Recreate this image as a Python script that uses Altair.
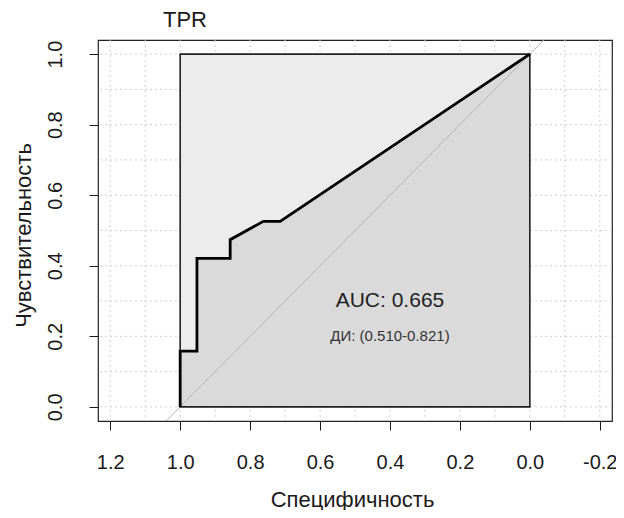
import altair as alt
import pandas as pd

# ROC curve points (specificity, sensitivity)
roc_spec = [1.0, 1.0, 0.952, 0.952, 0.857, 0.857, 0.762, 0.714, 0.0]
roc_sens = [0.0, 0.158, 0.158, 0.421, 0.421, 0.474, 0.526, 0.526, 1.0]

# max AUC square
max_spec = [0.0, 1.0]
max_sens = [0.0, 1.0]

# reference diagonal (chance line)
diag_spec = [1.04, -0.04]
diag_sens = [-0.04, 1.04]

# axis ticks and grid
x_ticks = [1.2, 1.0, 0.8, 0.6, 0.4, 0.2, 0.0, -0.2]
y_ticks = [0.0, 0.2, 0.4, 0.6, 0.8, 1.0]
grid_x = [1.2, 1.1, 1.0, 0.9, 0.8, 0.7, 0.6, 0.5, 0.4, 0.3, 0.2, 0.1, 0.0, -0.1, -0.2]
grid_y = [0.0, 0.1, 0.2, 0.3, 0.4, 0.5, 0.6, 0.7, 0.8, 0.9, 1.0]

# annotations
auc_text = ["AUC: 0.665"]
auc_pos = [0.4, 0.3]
ci_text = ["ДИ: (0.510-0.821)"]
ci_pos = [0.4, 0.2]

FONT = "Liberation Sans"
TXT = "#1a1a1a"

roc_df = pd.DataFrame({"spec": roc_spec, "sens": roc_sens, "idx": list(range(len(roc_spec)))})

# area under the curve split into pieces with distinct x inside each piece
seg_rows = []
seg = 0
for i in range(len(roc_spec) - 1):
    if roc_spec[i] != roc_spec[i + 1]:
        seg_rows.append({"spec": roc_spec[i], "sens": roc_sens[i], "seg": seg})
        seg_rows.append({"spec": roc_spec[i + 1], "sens": roc_sens[i + 1], "seg": seg})
        seg += 1
area_df = pd.DataFrame(seg_rows)

max_df = pd.DataFrame({"x0": [max_spec[0]], "x1": [max_spec[1]], "y0": [max_sens[0]], "y1": [max_sens[1]]})
diag_df = pd.DataFrame({"spec": diag_spec, "sens": diag_sens})

xs = alt.Scale(domain=[-0.235, 1.235], reverse=True, nice=False, zero=False)
ys = alt.Scale(domain=[-0.04, 1.04], nice=False, zero=False)

lab_expr = "datum.value < 0 ? '-' + format(-datum.value, '.1f') : format(datum.value, '.1f')"

x_axis = alt.Axis(
    values=x_ticks, labelExpr=lab_expr, title="Специфичность", grid=False, domain=False,
    tickColor=TXT, tickSize=9, tickWidth=1, labelFontSize=20, labelFont=FONT, labelColor=TXT,
    labelBaseline="middle", labelAlign="center", labelPadding=32, labelFlush=False, labelOverlap=False,
    titleFontSize=22, titleFont=FONT, titleFontWeight="normal", titleColor=TXT,
    titleX=254, titleY=85, titleBaseline="alphabetic", titleAlign="center",
)
y_axis = alt.Axis(
    values=y_ticks, labelExpr=lab_expr, title="Чувствительность", grid=False, domain=False,
    tickColor=TXT, tickSize=9, tickWidth=1, labelFontSize=20, labelFont=FONT, labelColor=TXT,
    labelAngle=270, labelAlign="center", labelBaseline="middle", labelPadding=34,
    labelFlush=False, labelOverlap=False,
    titleFontSize=22, titleFont=FONT, titleFontWeight="normal", titleColor=TXT,
    titleX=-75, titleY=195, titleAngle=270, titleBaseline="middle", titleAlign="center",
)


def X(field):
    return alt.X(field, scale=xs, axis=x_axis)


def Y(field, **kw):
    return alt.Y(field, scale=ys, axis=y_axis, **kw)


grid_v = alt.Chart(pd.DataFrame({"gx": grid_x})).mark_rule(
    color="#cfcfcf", strokeDash=[2, 3], strokeWidth=1
).encode(x=X("gx:Q"))

grid_h = alt.Chart(pd.DataFrame({"gy": grid_y})).mark_rule(
    color="#cfcfcf", strokeDash=[2, 3], strokeWidth=1
).encode(y=Y("gy:Q"))

max_poly = alt.Chart(max_df).mark_rect(fill="#ECECEC").encode(
    x=X("x0:Q"), x2="x1", y=Y("y0:Q"), y2="y1",
)

auc_poly = alt.Chart(area_df).mark_area(color="#DADADA", stroke="#DADADA", strokeWidth=1).encode(
    x=X("spec:Q"), y=Y("sens:Q", stack=None), detail="seg:N",
)

diag = alt.Chart(diag_df).mark_line(color="#b5b5b5", strokeWidth=1, clip=True).encode(
    x=X("spec:Q"), y=Y("sens:Q"),
)

max_outline = alt.Chart(max_df).mark_rect(fillOpacity=0, stroke="#222222", strokeWidth=1.6).encode(
    x=X("x0:Q"), x2="x1", y=Y("y0:Q"), y2="y1",
)

roc = alt.Chart(roc_df).mark_line(color="black", strokeWidth=2.8).encode(
    x=X("spec:Q"), y=Y("sens:Q"), order=alt.Order("idx:Q"),
)

auc_lbl = alt.Chart(pd.DataFrame({"t": auc_text, "x": [auc_pos[0]], "y": [auc_pos[1]]})).mark_text(
    font=FONT, fontSize=21, color="#222222", baseline="middle", align="center"
).encode(x=X("x:Q"), y=Y("y:Q"), text="t:N")

ci_lbl = alt.Chart(pd.DataFrame({"t": ci_text, "x": [ci_pos[0]], "y": [ci_pos[1]]})).mark_text(
    font=FONT, fontSize=15, color="#333333", baseline="middle", align="center"
).encode(x=X("x:Q"), y=Y("y:Q"), text="t:N")

chart = alt.layer(
    grid_v, grid_h, max_poly, auc_poly, diag, max_outline, roc, auc_lbl, ci_lbl
).properties(
    width=514, height=381,
    autosize=alt.AutoSizeParams(type="none"),
    padding={"left": 90, "top": 32, "right": 4, "bottom": 89},
    background="white",
    title=alt.TitleParams(
        "TPR", anchor="start", dx=151, offset=8,
        fontSize=22, fontWeight="normal", font=FONT, color=TXT,
    ),
).configure_view(
    stroke="#222222", strokeWidth=1.2
)

chart.save("out.html", embed_options={"renderer": "svg", "actions": False})
